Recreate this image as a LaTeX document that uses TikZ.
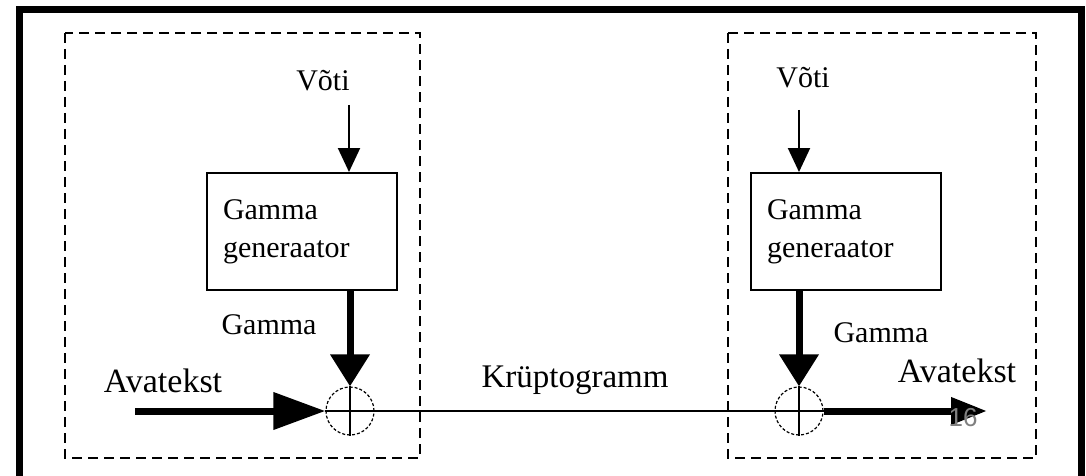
\documentclass[tikz,border=0pt]{standalone}
\usepackage{fontspec}
\setmainfont{Liberation Serif}
\newfontfamily\pagefont{Liberation Sans}
\usetikzlibrary{arrows.meta, positioning}
\tikzstyle{tekst} = [inner sep=0pt, font=\fontsize{15}{18}\selectfont]
\tikzstyle{suurtekst} = [inner sep=0pt, font=\fontsize{17}{20}\selectfont]
\tikzstyle{generator} = [rectangle, draw=black, line width=1pt, minimum width=95pt, minimum height=58.5pt, inner xsep=8pt, text width=79pt, align=left, font=\fontsize{15}{19}\selectfont]
\tikzstyle{xor} = [circle, draw=black, line width=0.6pt, dash pattern=on 1.5pt off 1pt, minimum size=24pt, inner sep=0pt]
\tikzstyle{block} = [line width=1pt, dash pattern=on 5pt off 3pt]
\tikzstyle{keyarrow} = [line width=1pt, -{Triangle[length=12pt,width=11pt]}]
\tikzstyle{gammaarrow} = [line width=3.5pt, -{Triangle[length=16pt,width=19pt]}]
\tikzstyle{dataline} = [line width=1pt]

\begin{document}
\begin{tikzpicture}[x=0.5pt, y=-0.5pt]

        \useasboundingbox (0,0) rectangle (1086,476);

        % Frame and the two dashed blocks
        \draw [line width=3.5pt] (19,480) -- (19,10) -- (1081.5,10) -- (1081.5,480);
        \draw [block] (65,33) rectangle (420,458);
        \draw [block] (728,33) rectangle (1036,458);

        % Nodes
        \node (votiL) [tekst] at (323,81) {Võti};
        \node (genL) [generator] at (302,231.5) {Gamma\\generaator};
        \node (gammaL) [tekst] at (269,325) {Gamma};
        \node (xorL) [xor] at (350,411) {};
        \node (avaL) [suurtekst] at (163,381) {Avatekst};
        \node (krypt) [suurtekst, font=\fontsize{16.5}{20}\selectfont] at (575,380) {Krüptogramm};

        \node (votiR) [tekst] at (803,78) {Võti};
        \node (genR) [generator] at (846,231.5) {Gamma\\generaator};
        \node (gammaR) [tekst] at (881,333) {Gamma};
        \node (xorR) [xor] at (799,411) {};
        \node (avaR) [suurtekst] at (957,371) {Avatekst};

        \coordinate (keyL) at (349,105);
        \coordinate (keyR) at (799,110);
        \coordinate (sisend) at (135,411);
        \coordinate (valjund) at (987,411);

        % Arrows
        \draw [keyarrow] (keyL) -- (genL.north -| keyL);
        \draw [keyarrow] (keyR) -- (genR.north -| keyR);
        \draw [gammaarrow] (genL.south -| xorL) -- (xorL.north);
        \draw [gammaarrow] (genR.south -| xorR) -- (xorR.north);
        \draw [line width=3.5pt, -{Triangle[length=26pt,width=18pt]}] (sisend) -- (xorL.west);
        \draw [dataline] (xorL.west) -- (xorR.east);
        \draw [line width=3.5pt, -{Triangle[length=18pt,width=13pt]}] (xorR.east) -- (valjund);
        \draw [dataline] (xorL.north) -- (xorL.south);
        \draw [dataline] (xorR.north) -- (xorR.south);

        % page number
        \node (lk) [inner sep=0pt, text=gray, font=\pagefont\fontsize{13}{15}\selectfont] at (963,418) {16};

\end{tikzpicture}
\end{document}
